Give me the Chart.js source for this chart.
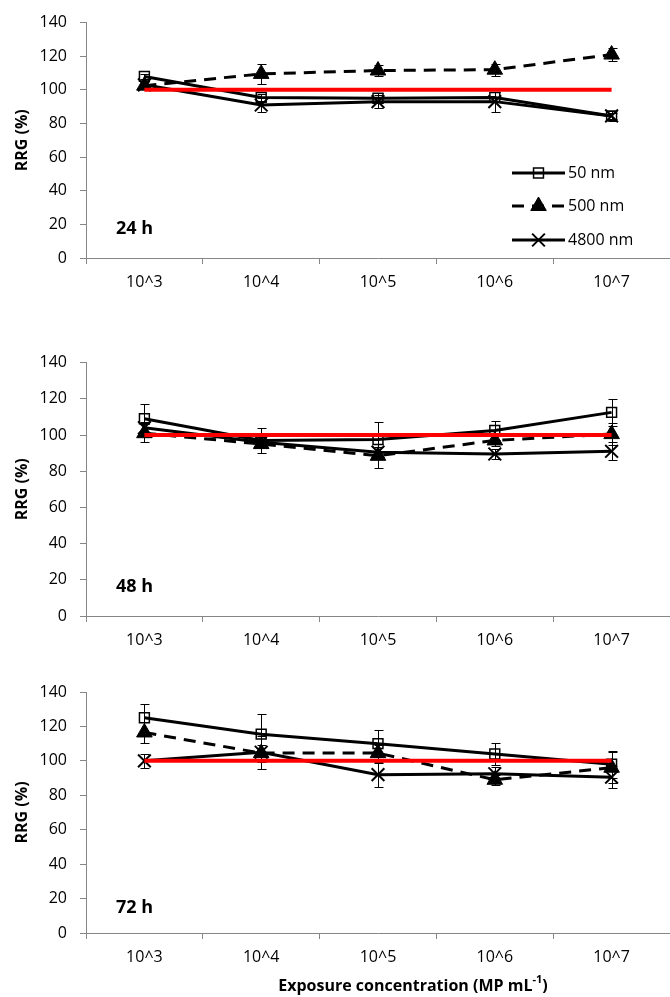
<!DOCTYPE html>
<html>
<head>
<meta charset="utf-8">
<script src="https://cdn.jsdelivr.net/npm/chart.js@4.4.1/dist/chart.umd.min.js"></script>
<style>
    html, body { margin: 0; padding: 0; background: #ffffff; }
    body { width: 670px; height: 997px; position: relative; overflow: hidden; }
    canvas { position: absolute; left: 0; }
</style>
</head>
<body>
<canvas id="panel24" width="670" height="300" style="top:0px"></canvas>
<canvas id="panel48" width="670" height="320" style="top:340px"></canvas>
<canvas id="panel72" width="670" height="337" style="top:660px"></canvas>
<script>

/* =========================
   DATA
========================= */

const CATEGORIES = ['10^3', '10^4', '10^5', '10^6', '10^7'];
const SERIES_LABELS = ['50 nm', '500 nm', '4800 nm'];
const PANEL_LABELS = ['24 h', '48 h', '72 h'];
const Y_MIN = 0;
const Y_MAX = 140;
const Y_STEP = 20;
const Y_TITLE = 'RRG (%)';
const X_TITLE = 'Exposure concentration (MP mL';
const X_TITLE_SUP = '-1';

const CONTROL = [100, 100, 100, 100, 100];

const RRG_50_24H = [108, 95.5, 95, 95.5, 84.5];
const ERR_50_24H = [1.5, 2, 3, 3, 2];
const RRG_500_24H = [102.5, 109.5, 111.5, 112, 121];
const ERR_500_24H = [2, 6, 3.5, 3.5, 4];
const RRG_4800_24H = [103, 91, 93, 93, 84.5];
const ERR_4800_24H = [2, 4, 4, 6, 3];

const RRG_50_48H = [109, 97, 97.5, 102.5, 112.5];
const ERR_50_48H = [8, 7, 9.5, 5, 7.5];
const RRG_500_48H = [101, 95, 88.5, 97, 100.5];
const ERR_500_48H = [5, 2, 6.5, 3, 6];
const RRG_4800_48H = [104, 96, 90.5, 89.5, 91];
const ERR_4800_48H = [3, 3, 3, 2.5, 5];

const RRG_50_72H = [125, 115.5, 110, 104, 98];
const ERR_50_72H = [8, 11.5, 8, 6.5, 8];
const RRG_500_72H = [116.5, 104.5, 104.5, 89, 96];
const ERR_500_72H = [6, 5, 5, 3, 9];
const RRG_4800_72H = [100, 105, 92, 92.5, 90.5];
const ERR_4800_72H = [4, 9.5, 7, 4, 6.5];

/* =========================
   STYLE
========================= */

const FONT_FAMILY = '"Open Sans", "Liberation Sans", sans-serif';
const AXIS_GRAY = '#868686';

const SERIES_STYLES = [
    { pointStyle: 'rect', radius: 7, borderWidth: 1.5, fill: 'rgba(0,0,0,0)', dash: [] },
    { pointStyle: 'triangle', radius: 9, borderWidth: 1, fill: '#000000', dash: [12, 8] },
    { pointStyle: 'crossRot', radius: 9, borderWidth: 2, fill: '#000000', dash: [] }
];

/* =========================
   PLUGINS
========================= */

const errorBarsPlugin = {

    id: 'errorBars',

    beforeDatasetsDraw(chart) {

        const ctx = chart.ctx;
        const yScale = chart.scales.y;

        chart.data.datasets.forEach((ds, i) => {

            if (!ds.errors) return;

            const meta = chart.getDatasetMeta(i);

            meta.data.forEach((pt, j) => {

                const v = ds.data[j];
                const e = ds.errors[j];
                const x = Math.round(pt.x) + 0.5;
                const top = Math.round(yScale.getPixelForValue(v + e)) + 0.5;
                const bottom = Math.round(yScale.getPixelForValue(v - e)) + 0.5;

                ctx.save();
                ctx.strokeStyle = '#000000';
                ctx.lineWidth = 1;
                ctx.beginPath();
                ctx.moveTo(x, top);
                ctx.lineTo(x, bottom);
                ctx.moveTo(x - 4, top);
                ctx.lineTo(x + 5, top);
                ctx.moveTo(x - 4, bottom);
                ctx.lineTo(x + 5, bottom);
                ctx.stroke();
                ctx.restore();
            });
        });
    }
};

const panelTextPlugin = {

    id: 'panelText',

    afterDraw(chart, args, opts) {

        const { ctx, chartArea } = chart;

        ctx.save();
        ctx.fillStyle = '#000000';
        ctx.textBaseline = 'middle';
        ctx.font = `bold 18px ${FONT_FAMILY}`;
        ctx.fillText(opts.text, chartArea.left + opts.dx, chartArea.bottom - opts.dy);

        if (opts.xTitle) {

            ctx.font = `bold 16px ${FONT_FAMILY}`;
            const mainW = ctx.measureText(X_TITLE).width;
            ctx.font = `bold 11px ${FONT_FAMILY}`;
            const supW = ctx.measureText(X_TITLE_SUP).width;
            ctx.font = `bold 16px ${FONT_FAMILY}`;
            const closeW = ctx.measureText(')').width;

            let x = opts.xTitle.cx - (mainW + supW + closeW) / 2;
            const y = opts.xTitle.y;

            ctx.textAlign = 'left';
            ctx.fillText(X_TITLE, x, y);
            x += mainW;

            ctx.font = `bold 11px ${FONT_FAMILY}`;
            ctx.fillText(X_TITLE_SUP, x, y - 6);
            x += supW;

            ctx.font = `bold 16px ${FONT_FAMILY}`;
            ctx.fillText(')', x, y);
        }

        ctx.restore();
    }
};

const insideLegendPlugin = {

    id: 'insideLegend',

    afterDraw(chart, args, opts) {

        if (!opts.show) return;

        const ctx = chart.ctx;

        SERIES_LABELS.forEach((label, i) => {

            const st = SERIES_STYLES[i];
            const y = opts.rows[i];

            ctx.save();
            ctx.strokeStyle = '#000000';
            ctx.lineWidth = 3;
            ctx.setLineDash(st.dash);
            ctx.beginPath();
            ctx.moveTo(opts.x0, y);
            ctx.lineTo(opts.x1, y);
            ctx.stroke();
            ctx.setLineDash([]);

            ctx.fillStyle = st.fill;
            ctx.lineWidth = st.borderWidth;
            Chart.helpers.drawPoint(ctx, {
                pointStyle: st.pointStyle,
                radius: st.radius,
                rotation: 0,
                borderWidth: st.borderWidth
            }, (opts.x0 + opts.x1) / 2, y);

            ctx.fillStyle = '#000000';
            ctx.font = `16px ${FONT_FAMILY}`;
            ctx.textBaseline = 'middle';
            ctx.fillText(label, opts.x1 + 3, y);
            ctx.restore();
        });
    }
};

/* =========================
   CHART BUILDER
========================= */

function seriesDataset(index, values, errors) {

    const st = SERIES_STYLES[index];

    return {
        label: SERIES_LABELS[index],
        data: values,
        errors: errors,
        borderColor: '#000000',
        borderWidth: 3,
        borderDash: st.dash,
        tension: 0,
        pointStyle: st.pointStyle,
        pointRadius: st.radius,
        pointHoverRadius: st.radius,
        pointBorderWidth: st.borderWidth,
        pointBorderColor: '#000000',
        pointBackgroundColor: st.fill,
        order: index + 1
    };
}

function createPanel(canvasId, layout, label, series, extra) {

    const ctx = document.getElementById(canvasId).getContext('2d');

    return new Chart(ctx, {

        type: 'line',

        data: {
            labels: CATEGORIES,
            datasets: [
                {
                    label: 'control',
                    data: CONTROL,
                    borderColor: '#ff0000',
                    borderWidth: 4,
                    pointRadius: 0,
                    tension: 0,
                    order: 0
                },
                seriesDataset(0, series[0], series[1]),
                seriesDataset(1, series[2], series[3]),
                seriesDataset(2, series[4], series[5])
            ]
        },

        options: {

            responsive: false,
            animation: false,
            devicePixelRatio: 1,

            layout: {
                autoPadding: false,
                padding: { top: layout.top, left: 0, right: 0, bottom: 0 }
            },

            plugins: {
                legend: { display: false },
                tooltip: { enabled: false },
                panelText: Object.assign({ text: label, dx: 30, dy: layout.labelDy }, extra.text || {}),
                insideLegend: extra.legend || { show: false }
            },

            scales: {

                x: {
                    type: 'category',
                    offset: true,
                    afterFit: s => {
                        s.height = layout.xHeight;
                        s.paddingLeft = 0;
                        s.paddingRight = 0;
                    },
                    grid: {
                        offset: true,
                        drawOnChartArea: false,
                        drawTicks: true,
                        tickLength: 6,
                        color: AXIS_GRAY
                    },
                    border: { color: AXIS_GRAY, width: 1 },
                    ticks: {
                        color: '#000000',
                        padding: 9,
                        maxRotation: 0,
                        font: { family: FONT_FAMILY, size: 16 }
                    }
                },

                y: {
                    min: Y_MIN,
                    max: Y_MAX,
                    afterFit: s => { s.width = 86; },
                    grid: {
                        drawOnChartArea: false,
                        drawTicks: true,
                        tickLength: 6,
                        color: AXIS_GRAY
                    },
                    border: { color: AXIS_GRAY, width: 1 },
                    ticks: {
                        stepSize: Y_STEP,
                        color: '#000000',
                        padding: 13,
                        font: { family: FONT_FAMILY, size: 16 }
                    },
                    title: {
                        display: true,
                        text: Y_TITLE,
                        color: '#000000',
                        padding: { top: 13, bottom: 0 },
                        font: { family: FONT_FAMILY, size: 16, weight: 'bold' }
                    }
                }
            }
        },

        plugins: [errorBarsPlugin, panelTextPlugin, insideLegendPlugin]
    });
}

createPanel(
    'panel24',
    { top: 18, xHeight: 42, labelDy: 29 },
    PANEL_LABELS[0],
    [RRG_50_24H, ERR_50_24H, RRG_500_24H, ERR_500_24H, RRG_4800_24H, ERR_4800_24H],
    { legend: { show: true, x0: 512, x1: 565, rows: [173, 206, 240] } }
);

createPanel(
    'panel48',
    { top: 19, xHeight: 44, labelDy: 29 },
    PANEL_LABELS[1],
    [RRG_50_48H, ERR_50_48H, RRG_500_48H, ERR_500_48H, RRG_4800_48H, ERR_4800_48H],
    {}
);

createPanel(
    'panel72',
    { top: 32, xHeight: 64, labelDy: 25 },
    PANEL_LABELS[2],
    [RRG_50_72H, ERR_50_72H, RRG_500_72H, ERR_500_72H, RRG_4800_72H, ERR_4800_72H],
    { text: { xTitle: { cx: 413, y: 326 } } }
);

</script>
</body>
</html>
